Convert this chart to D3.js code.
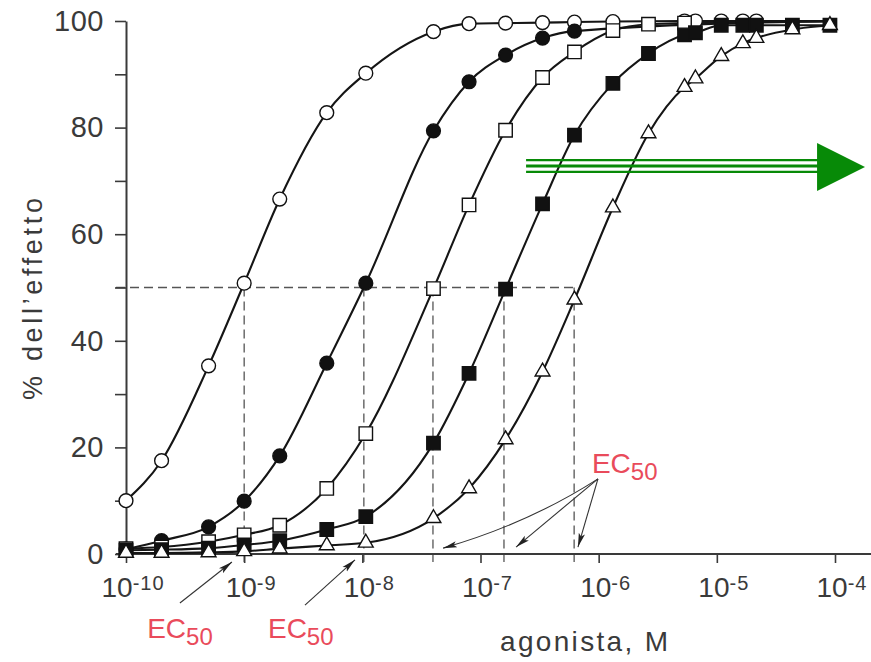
<!DOCTYPE html>
<html><head><meta charset="utf-8">
<script src="https://cdn.jsdelivr.net/npm/d3@7"></script>
<style>body{margin:0;background:#fff}svg{display:block}</style>
</head><body>
<svg id="chart" width="871" height="662"></svg>
<script>
// ---------- data ----------
const xTickExponents = [-10, -9, -8, -7, -6, -5, -4];
const yTickValues = [0, 10, 20, 30, 40, 50, 60, 70, 80, 90, 100];
const yLabelStep = 20;

const openCircleX = [1e-10, 2e-10, 5e-10, 1e-9, 2e-9, 5e-9, 1.07e-8, 4e-8, 8e-8, 1.63e-7, 3.35e-7, 6.24e-7, 1.32e-6, 5.33e-6, 6.59e-6, 1.09e-5, 1.66e-5, 2.16e-5];
const openCircleY = [10, 17.5, 35.3, 50.8, 66.6, 82.8, 90.2, 98, 99.5, 99.6, 99.7, 99.8, 99.9, 100, 100, 100, 100, 100];

const filledCircleX = [1e-10, 2e-10, 5e-10, 1e-9, 2e-9, 5e-9, 1.07e-8, 4e-8, 8e-8, 1.63e-7, 3.35e-7, 6.24e-7];
const filledCircleY = [0.9, 2.5, 5.1, 9.9, 18.4, 35.8, 50.8, 79.4, 88.6, 93.6, 96.8, 98.1];

const openSquareX = [1e-10, 2e-10, 5e-10, 1e-9, 2e-9, 5e-9, 1.07e-8, 4e-8, 8e-8, 1.63e-7, 3.35e-7, 6.24e-7, 1.32e-6, 2.64e-6, 5.33e-6];
const openSquareY = [1.0, 1.3, 2.3, 3.6, 5.4, 12.3, 22.6, 49.8, 65.5, 79.5, 89.4, 94.2, 98.2, 99.4, 99.6];

const filledSquareX = [1e-10, 2e-10, 5e-10, 1e-9, 2e-9, 5e-9, 1.07e-8, 4e-8, 8e-8, 1.63e-7, 3.35e-7, 6.24e-7, 1.32e-6, 2.64e-6, 5.33e-6, 6.59e-6, 1.09e-5, 1.66e-5, 2.16e-5, 4.36e-5, 9.06e-5];
const filledSquareY = [0.7, 0.8, 1.1, 1.7, 2.5, 4.6, 7.0, 20.8, 33.9, 49.7, 65.7, 78.6, 88.3, 93.9, 97.4, 97.8, 99.2, 99.2, 99.2, 99.2, 99.2];

const triangleX = [1e-10, 2e-10, 5e-10, 1e-9, 2e-9, 5e-9, 1.07e-8, 4e-8, 8e-8, 1.63e-7, 3.35e-7, 6.24e-7, 1.32e-6, 2.64e-6, 5.33e-6, 6.59e-6, 1.09e-5, 1.66e-5, 2.16e-5, 4.36e-5, 9.06e-5];
const triangleY = [0.2, 0.2, 0.3, 0.5, 1.0, 1.6, 2.1, 6.7, 12.3, 21.5, 34.2, 47.7, 65.0, 78.9, 87.6, 89.2, 93.4, 95.8, 96.8, 98.4, 99.2];

// value of each fitted curve where it ends, at 1e-4 M
const lineEndX = 1e-4;
const lineEndY = [100, 100, 99.9, 99.3, 99.3];

// EC50 values (dashed drop lines)
const ec50Values = [1e-9, 1.03e-8, 3.96e-8, 1.58e-7, 6.2e-7];
const halfEffect = 50;

// annotations (data units: concentration, % effect)
const ecLabelX = [1.51e-10, 1.59e-9, 8.77e-7];
const ecLabelY = [-15.8, -15.8, 15.2];
const ecArrowFrom = [[2.86e-10, -9.2], [3.27e-9, -9.6], [9.86e-7, 14.1], [9.86e-7, 14.1], [9.86e-7, 14.1]];
const ecArrowTo = [[7.88e-10, -1.5], [8.67e-9, -1.1], [4.82e-8, 1.1], [2.0e-7, 1.3], [6.68e-7, 1.3]];
const greenShaftX = [2.43e-7, 7.05e-5];
const greenShaftY = [73.9, 72.8, 71.7];
const greenHead = {baseX: 7.05e-5, tipX: 1.795e-4, midY: 72.6, halfH: 4.5};

// ---------- drawing ----------
const svg = d3.select('#chart');
const FONT = '"Liberation Sans", Arial, Helvetica, sans-serif';
const INK = '#3a3a3a';
const RED = '#e94b5b';

const x = d3.scaleLog().domain([1e-10, 1e-4]).range([126, 835]);
const y = d3.scaleLinear().domain([0, 100]).range([554, 21]);

svg.append('rect').attr('width', 871).attr('height', 662).attr('fill', '#fff');

const defs = svg.append('defs');
defs.append('marker').attr('id', 'ah').attr('viewBox', '0 0 14 8')
  .attr('refX', 14).attr('refY', 4).attr('markerWidth', 14).attr('markerHeight', 8)
  .attr('markerUnits', 'userSpaceOnUse').attr('orient', 'auto')
  .append('path').attr('d', 'M0,0.8 L14,4 L0,7.2 L3,4 Z').attr('fill', '#222');

// dashed EC50 lines
const dash = svg.append('g').attr('stroke', '#555').attr('stroke-width', 1.3)
  .attr('stroke-dasharray', '9,5').attr('fill', 'none');
dash.append('line').attr('x1', 116).attr('x2', x(d3.max(ec50Values)))
  .attr('y1', y(halfEffect)).attr('y2', y(halfEffect));
dash.selectAll('line.v').data(ec50Values).join('line').attr('class', 'v')
  .attr('x1', d => x(d)).attr('x2', d => x(d))
  .attr('y1', y(halfEffect)).attr('y2', y(0) + 8);

// axes
const yAxis = d3.axisLeft(y).tickValues(yTickValues).tickSize(11).tickSizeOuter(0).tickPadding(11)
  .tickFormat(d => d % yLabelStep === 0 ? d : '');
const gy = svg.append('g').attr('transform', `translate(${x(1e-10)},0)`).call(yAxis);
gy.select('.domain').attr('stroke', INK).attr('stroke-width', 2);
gy.selectAll('.tick line').attr('stroke', INK).attr('stroke-width', 1.6);
gy.selectAll('.tick text').attr('font-family', FONT).attr('font-size', 29)
  .attr('letter-spacing', 0.5).attr('fill', INK);

const xTickValues = xTickExponents.map(e => Math.pow(10, e));
const xAxis = d3.axisBottom(x).tickValues(xTickValues).tickSize(9).tickSizeOuter(0).tickFormat('');
const gx = svg.append('g').attr('transform', `translate(0,${y(0)})`).call(xAxis);
gx.select('.domain').remove();
gx.selectAll('.tick line').attr('stroke', INK).attr('stroke-width', 1.6);
svg.append('line').attr('x1', 116).attr('x2', 871).attr('y1', y(0)).attr('y2', y(0))
  .attr('stroke', INK).attr('stroke-width', 2);

const xl = svg.append('g').selectAll('text').data(xTickExponents).join('text')
  .attr('x', d => x(Math.pow(10, d)) + 7).attr('y', y(0) + 43)
  .attr('text-anchor', 'middle').attr('font-family', FONT).attr('fill', INK);
xl.append('tspan').attr('font-size', 28).text('10');
xl.append('tspan').attr('font-size', 20).attr('dy', -7).attr('letter-spacing', 1).text(d => '-' + Math.abs(d));

// axis titles
svg.append('text').attr('x', 584).attr('y', 651).attr('text-anchor', 'middle')
  .attr('font-family', FONT).attr('font-size', 28).attr('fill', INK)
  .attr('textLength', 168).attr('lengthAdjust', 'spacing').text('agonista, M');
svg.append('text').attr('transform', 'translate(42,299) rotate(-90)').attr('text-anchor', 'middle')
  .attr('font-family', FONT).attr('font-size', 27).attr('fill', INK)
  .attr('textLength', 202).attr('lengthAdjust', 'spacing').text('% dell\u2019effetto');

// curves
const series = [
  {xs: openCircleX, ys: openCircleY, shape: 'circle', fill: '#fff'},
  {xs: filledCircleX, ys: filledCircleY, shape: 'circle', fill: '#111'},
  {xs: openSquareX, ys: openSquareY, shape: 'square', fill: '#fff'},
  {xs: filledSquareX, ys: filledSquareY, shape: 'square', fill: '#111'},
  {xs: triangleX, ys: triangleY, shape: 'triangle', fill: '#fff'}
];
const line = d3.line().x(d => x(d[0])).y(d => y(d[1])).curve(d3.curveMonotoneX);
series.forEach((s, i) => {
  const pts = s.xs.map((v, j) => [v, s.ys[j]]);
  pts.push([lineEndX, lineEndY[i]]);
  svg.append('path').attr('d', line(pts)).attr('fill', 'none')
    .attr('stroke', '#151515').attr('stroke-width', 2.1);
});
const symbolOf = {circle: d3.symbol(d3.symbolCircle, 150), square: d3.symbol(d3.symbolSquare, 180), triangle: d3.symbol(d3.symbolTriangle, 95)};
series.forEach(s => {
  svg.append('g').selectAll('path').data(s.xs.map((v, j) => [v, s.ys[j]])).join('path')
    .attr('transform', d => `translate(${x(d[0])},${y(d[1])})`)
    .attr('d', symbolOf[s.shape]())
    .attr('fill', s.fill).attr('stroke', '#111').attr('stroke-width', 1.4);
});

// EC50 labels + arrows
const ecl = svg.append('g').selectAll('text').data(ecLabelX).join('text')
  .attr('x', d => x(d)).attr('y', (d, i) => y(ecLabelY[i]))
  .attr('font-family', FONT).attr('fill', RED);
ecl.append('tspan').attr('font-size', 28).text('EC');
ecl.append('tspan').attr('font-size', 24).attr('dy', 7).text('50');

const arrowPath = (a, b, i) => {
  const x1 = x(a[0]), y1 = y(a[1]), x2 = x(b[0]), y2 = y(b[1]);
  if (i === 2) { const cx = (x1 + x2) / 2 + 8, cy = (y1 + y2) / 2 + 10; return `M${x1},${y1} Q${cx},${cy} ${x2},${y2}`; }
  return `M${x1},${y1} L${x2},${y2}`;
};
svg.append('g').selectAll('path').data(ecArrowFrom).join('path')
  .attr('d', (d, i) => arrowPath(d, ecArrowTo[i], i))
  .attr('fill', 'none').attr('stroke', '#333').attr('stroke-width', 1.1)
  .attr('marker-end', 'url(#ah)');

// green arrow
const GREEN = '#078a07';
svg.append('g').selectAll('line').data(greenShaftY).join('line')
  .attr('x1', x(greenShaftX[0])).attr('x2', x(greenShaftX[1]) + 2)
  .attr('y1', d => y(d)).attr('y2', d => y(d))
  .attr('stroke', GREEN).attr('stroke-width', (d, i) => i === 1 ? 3 : 2.4);
svg.append('path')
  .attr('d', `M${x(greenHead.baseX)},${y(greenHead.midY + greenHead.halfH)} L${x(greenHead.tipX)},${y(greenHead.midY)} L${x(greenHead.baseX)},${y(greenHead.midY - greenHead.halfH)} Z`)
  .attr('fill', GREEN);
</script>
</body></html>
